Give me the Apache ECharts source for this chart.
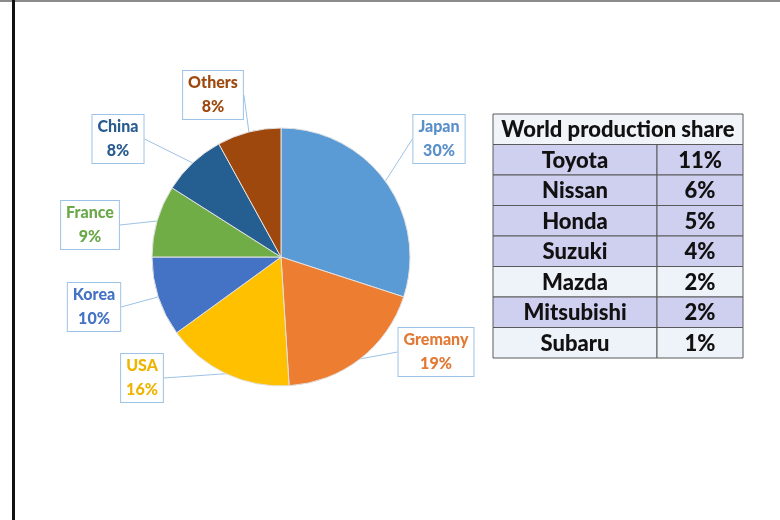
<!DOCTYPE html>
<html>
<head>
<meta charset="utf-8">
<script src="https://cdn.jsdelivr.net/npm/echarts@6/dist/echarts.min.js"></script>
<style>
  html, body { margin: 0; padding: 0; background: #ffffff; }
  #chart { width: 780px; height: 520px; }
</style>
</head>
<body>
<div id="chart"></div>
<script>
// Share of world car production by country (%)
const countries = ['Japan', 'Gremany', 'USA', 'Korea', 'France', 'China', 'Others'];
const countryShare = [30, 19, 16, 10, 9, 8, 8];

// Share of world production by maker (%)
const tableTitle = 'World production share';
const makers = ['Toyota', 'Nissan', 'Honda', 'Suzuki', 'Mazda', 'Mitsubishi', 'Subaru'];
const makerShare = [11, 6, 5, 4, 2, 2, 1];

// ---- styling ----
const sliceColors = ['#5b9bd5', '#ed7d31', '#ffc000', '#4472c4', '#70ad47', '#255e91', '#9e480e'];
const labelColors = ['#5a8fc9', '#e27a35', '#eeb500', '#4472c4', '#6aa84a', '#285c8f', '#9e480e'];
// callout box centres in pixels
const calloutCentres = [[439, 139], [436, 352], [142, 378], [94, 307], [90, 225], [118, 139], [213, 95]];
// shaded (lavender) maker rows
const rowShaded = [true, true, true, true, false, true, false];
const NAME_COL = 0.656; // fraction of table width used by the maker column
const FONT = 'Lato, "Liberation Sans", sans-serif';

const chart = echarts.init(document.getElementById('chart'), null, { renderer: 'canvas' });

const tableRows = ['title'].concat(makers);

chart.setOption({
  animation: false,
  backgroundColor: '#ffffff',
  graphic: [
    { type: 'rect', shape: { x: 0, y: 0, width: 780, height: 2 }, style: { fill: '#8c8c8c' }, silent: true },
    { type: 'rect', shape: { x: 12, y: 0, width: 3, height: 520 }, style: { fill: '#111111' }, silent: true }
  ],
  grid: { left: 493, top: 114, width: 250, height: 244 },
  xAxis: { type: 'value', min: 0, max: 1, show: false },
  yAxis: { type: 'category', data: tableRows, inverse: true, show: false },
  series: [
    {
      type: 'pie',
      center: [281, 257],
      radius: [0, 129],
      startAngle: 90,
      clockwise: true,
      silent: true,
      itemStyle: { borderColor: '#e2e2e2', borderWidth: 1 },
      data: countries.map((c, i) => ({
        name: c,
        value: countryShare[i],
        itemStyle: { color: sliceColors[i] },
        label: { color: labelColors[i] }
      })),
      label: {
        show: true,
        position: 'outside',
        formatter: p => p.name + '\n' + p.value + '%',
        fontFamily: FONT,
        fontWeight: 900,
        fontSize: 16,
        lineHeight: 24,
        align: 'center',
        backgroundColor: '#ffffff',
        borderColor: '#9dc3e6',
        borderWidth: 1,
        padding: [0, 5]
      },
      labelLine: { show: true, length: 8, length2: 0, lineStyle: { color: '#9dc3e6', width: 1 } },
      labelLayout: p => ({
        x: calloutCentres[p.dataIndex][0],
        y: calloutCentres[p.dataIndex][1],
        align: 'center',
        verticalAlign: 'middle'
      })
    },
    {
      type: 'custom',
      coordinateSystem: 'cartesian2d',
      silent: true,
      encode: { x: 0, y: 1 },
      data: tableRows.map((r, i) => [0, i]),
      renderItem: (params, api) => {
        const row = api.value(1);
        const mid = api.coord([0, row]);
        const bandH = api.size([0, 1])[1];
        const x0 = mid[0];
        const x1 = api.coord([1, row])[0];
        const xs = api.coord([NAME_COL, row])[0];
        const y0 = mid[1] - bandH / 2;
        const stroke = '#5a5a5a';
        const font = '900 22px ' + FONT;
        const children = [];
        if (row === 0) {
          children.push({
            type: 'rect', shape: { x: x0, y: y0, width: x1 - x0, height: bandH },
            style: { fill: '#f1f5fa', stroke: stroke, lineWidth: 1 }
          });
          children.push({
            type: 'text',
            style: { text: tableTitle, x: (x0 + x1) / 2, y: mid[1] + 1, align: 'center', verticalAlign: 'middle',
              font: font, fill: '#111111' }
          });
        } else {
          const fill = rowShaded[row - 1] ? '#cfd0ef' : '#eef3f9';
          children.push({
            type: 'rect', shape: { x: x0, y: y0, width: xs - x0, height: bandH },
            style: { fill: fill, stroke: stroke, lineWidth: 1 }
          });
          children.push({
            type: 'rect', shape: { x: xs, y: y0, width: x1 - xs, height: bandH },
            style: { fill: fill, stroke: stroke, lineWidth: 1 }
          });
          children.push({
            type: 'text',
            style: { text: makers[row - 1], x: (x0 + xs) / 2, y: mid[1] + 1, align: 'center', verticalAlign: 'middle',
              font: font, fill: '#111111' }
          });
          children.push({
            type: 'text',
            style: { text: makerShare[row - 1] + '%', x: (xs + x1) / 2, y: mid[1] + 1, align: 'center', verticalAlign: 'middle',
              font: font, fill: '#111111' }
          });
        }
        return { type: 'group', children: children };
      }
    }
  ]
});
</script>
</body>
</html>
